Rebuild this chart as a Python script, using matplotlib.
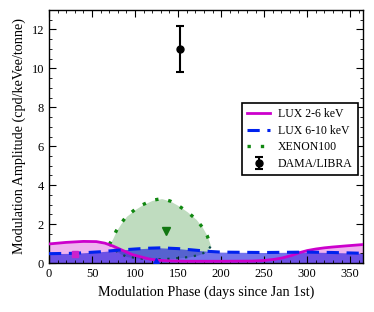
import matplotlib
matplotlib.use("Agg")
import matplotlib.pyplot as plt
from matplotlib.ticker import MultipleLocator

plt.rcParams['font.family'] = ['Liberation Serif', 'DejaVu Serif']
plt.rcParams['mathtext.fontset'] = 'stix'

# LUX 2-6 keV exclusion curve
lux26_days = [0, 20, 40, 55, 65, 75, 85, 97, 108, 117, 128, 140, 160, 200, 236, 250, 262, 271, 282, 290, 300, 310, 320, 329, 345, 365]
lux26_amp = [0.98, 1.06, 1.11, 1.10, 1.02, 0.86, 0.66, 0.43, 0.30, 0.20, 0.14, 0.11, 0.09, 0.09, 0.10, 0.13, 0.19, 0.26, 0.39, 0.52, 0.64, 0.72, 0.78, 0.82, 0.88, 0.95]

# LUX 6-10 keV exclusion curve
lux610_days = [0, 30, 60, 80, 100, 115, 130, 150, 170, 185, 200, 250, 300, 330, 365]
lux610_amp = [0.48, 0.50, 0.58, 0.66, 0.72, 0.76, 0.78, 0.74, 0.66, 0.60, 0.56, 0.54, 0.56, 0.54, 0.50]

# XENON100 contour (upper and lower edge)
xe_days = [70, 74, 78, 84, 90, 100, 109, 120, 131, 141, 151, 161, 171, 178, 184, 188]
xe_upper = [0.95, 1.25, 1.64, 2.05, 2.40, 2.75, 3.00, 3.22, 3.31, 3.18, 2.93, 2.62, 2.24, 1.85, 1.38, 0.86]
xe_lower = [0.95, 0.80, 0.62, 0.45, 0.33, 0.27, 0.22, 0.20, 0.20, 0.22, 0.26, 0.30, 0.38, 0.48, 0.62, 0.86]

# best-fit points
lux26_best = (30, 0.46)
lux610_best = (124, 0.10)
xe_best = (136, 1.66)

# DAMA/LIBRA
dama_day = 152
dama_amp = 11.0
dama_err = 1.2

fig = plt.figure(figsize=(3.74, 3.12), dpi=100)
ax = fig.add_axes([0.131, 0.157, 0.840, 0.811])

ax.fill_between(xe_days, xe_lower, xe_upper, color='#2e8b2e', alpha=0.3, lw=0)
ax.fill_between(lux26_days, 0, lux26_amp, color='#cc00cc', alpha=0.3, lw=0)
ax.fill_between(lux610_days, 0, lux610_amp, color='#0000dd', alpha=0.55, lw=0)

ax.plot(xe_days, xe_upper, color='#118811', ls=(0, (1, 3)), lw=2.4, label='XENON100', zorder=3)
ax.plot(xe_days, xe_lower, color='#0a4a4a', ls=(0, (1, 3)), lw=1.6, zorder=3)
ax.plot(lux26_days, lux26_amp, color='#cc00cc', lw=2, label='LUX 2-6 keV', zorder=4)
ax.plot(lux610_days, lux610_amp, color='#0022ee', ls=(0, (4, 2.5)), lw=2.2, label='LUX 6-10 keV', zorder=4)

ax.plot(*lux26_best, marker='s', color='#cc22cc', ms=5, ls='none', zorder=5)
ax.plot(*lux610_best, marker='^', color='#0022ee', ms=5, ls='none', zorder=5)
ax.plot(*xe_best, marker='v', color='#117711', ms=6, ls='none', zorder=5)

ax.errorbar([dama_day], [dama_amp], yerr=[dama_err], fmt='o', color='black',
            ms=5, capsize=3, elinewidth=1.5, capthick=1.5, label='DAMA/LIBRA', zorder=6)

handles, labels = ax.get_legend_handles_labels()
order = [labels.index(l) for l in ['LUX 2-6 keV', 'LUX 6-10 keV', 'XENON100', 'DAMA/LIBRA']]
leg = ax.legend([handles[i] for i in order], [labels[i] for i in order],
                loc='upper right', bbox_to_anchor=(0.984, 0.632), fontsize=8.5,
                fancybox=False, framealpha=1, edgecolor='black', handlelength=1.9,
                handletextpad=0.7, borderpad=0.45, labelspacing=0.38, borderaxespad=0)
leg.get_frame().set_linewidth(1.2)

ax.set_xlim(0, 365)
ax.set_ylim(0, 13)
ax.xaxis.set_major_locator(MultipleLocator(50))
ax.xaxis.set_minor_locator(MultipleLocator(10))
ax.yaxis.set_major_locator(MultipleLocator(2))
ax.yaxis.set_minor_locator(MultipleLocator(0.5))
ax.tick_params(which='both', direction='in', top=True, right=True, labelsize=9)
ax.tick_params(which='major', length=5)
ax.tick_params(which='minor', length=2.5)
for s in ax.spines.values():
    s.set_linewidth(1.0)

ax.set_xlabel('Modulation Phase (days since Jan 1st)', fontsize=10.2)
ax.set_ylabel('Modulation Amplitude (cpd/keVee/tonne)', fontsize=10.2)

fig.savefig('out.png', dpi=100)
